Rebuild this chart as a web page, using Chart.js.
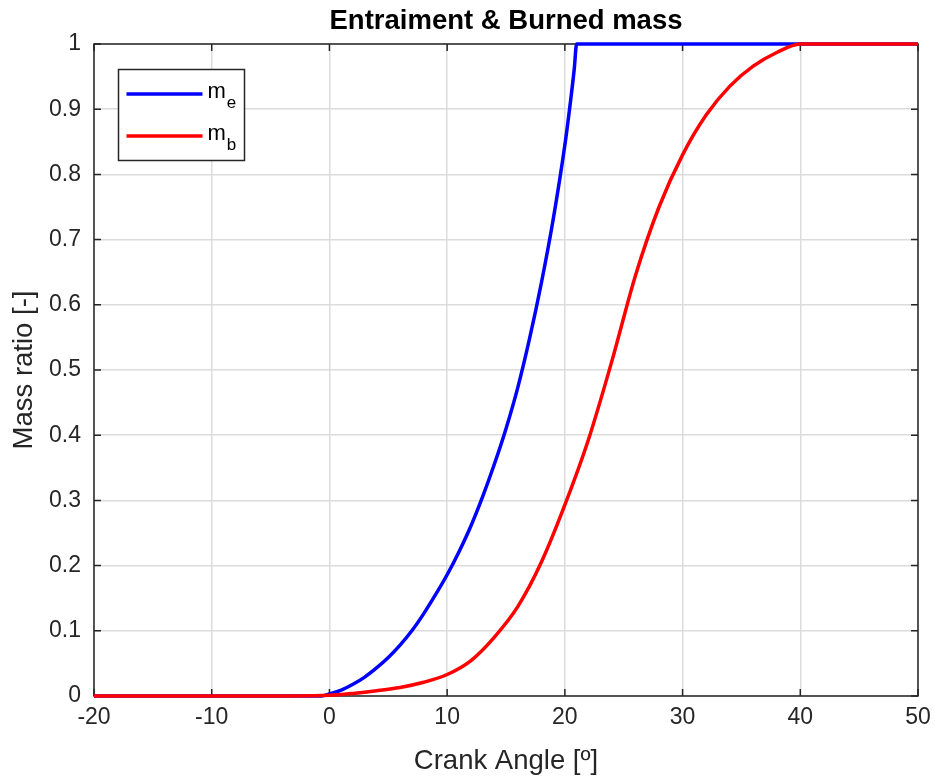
<!DOCTYPE html>
<html>
<head>
<meta charset="utf-8">
<title>Entraiment &amp; Burned mass</title>
<script src="https://cdn.jsdelivr.net/npm/chart.js@4.4.1/dist/chart.umd.min.js"></script>
<style>
  html, body { margin: 0; padding: 0; background: #fff; }
  #wrap { width: 935px; height: 778px; }
</style>
</head>
<body>
<div id="wrap"><canvas id="massChart" width="935" height="778"></canvas></div>
<script>
// values
const crankAngleE = [-20, -0.7, 0, 1, 2, 3, 4, 5, 6, 7, 8, 9, 10, 11, 12, 13, 14, 15, 16, 17, 18, 19, 20, 20.5, 20.8, 21, 50];
const massEntrained = [0, 0, 0.003, 0.009, 0.018, 0.029, 0.043, 0.059, 0.078, 0.100, 0.126, 0.155, 0.186, 0.221, 0.260, 0.305, 0.355, 0.41, 0.473, 0.548, 0.633, 0.73, 0.845, 0.915, 0.962, 1, 1];

const crankAngleB = [-20, -3, 0, 2, 4, 6, 8, 10, 12, 14, 16, 18, 20, 22, 24, 26, 28, 30, 32, 34, 36, 38, 40, 50];
const massBurned = [0, 0, 0.001, 0.004, 0.008, 0.013, 0.021, 0.033, 0.054, 0.090, 0.137, 0.205, 0.293, 0.393, 0.514, 0.645, 0.75, 0.83, 0.891, 0.935, 0.966, 0.987, 1, 1];

const xTickValues = [-20, -10, 0, 10, 20, 30, 40, 50];
const yTickValues = [0, 0.1, 0.2, 0.3, 0.4, 0.5, 0.6, 0.7, 0.8, 0.9, 1];
const yTickLabels = ['0', '0.1', '0.2', '0.3', '0.4', '0.5', '0.6', '0.7', '0.8', '0.9', '1'];

const seriesNames = ['m', 'm'];
const seriesSubscripts = ['e', 'b'];
const chartTitle = 'Entraiment & Burned mass';

const FONT = "'Liberation Sans', Arial, Helvetica, sans-serif";
const AXIS_COLOR = '#262626';
const GRID_COLOR = '#dcdcdc';

function toPoints(xs, ys) {
    return xs.map((x, i) => ({ x: x, y: ys[i] }));
}

// title centred over the plot area, not the whole canvas
const plotTitlePlugin = {
    id: 'plotTitle',
    afterDraw(chart) {
        const { ctx, chartArea: a } = chart;
        ctx.save();
        ctx.fillStyle = '#000';
        ctx.font = 'bold 27.5px ' + FONT;
        ctx.textAlign = 'center';
        ctx.textBaseline = 'middle';
        ctx.fillText(chartTitle, (a.left + a.right) / 2, 21);
        ctx.restore();
    }
};

// full box around the plot with inward tick marks (matlab style)
const axesBoxPlugin = {
    id: 'axesBox',
    beforeDatasetsDraw(chart) {
        const { ctx, chartArea: a, scales } = chart;
        const tickLen = 7;
        ctx.save();
        ctx.strokeStyle = AXIS_COLOR;
        ctx.lineWidth = 1.5;
        ctx.strokeRect(a.left, a.top, a.right - a.left, a.bottom - a.top);
        ctx.beginPath();
        xTickValues.forEach(v => {
            const px = scales.x.getPixelForValue(v);
            ctx.moveTo(px, a.bottom);
            ctx.lineTo(px, a.bottom - tickLen);
            ctx.moveTo(px, a.top);
            ctx.lineTo(px, a.top + tickLen);
        });
        yTickValues.forEach(v => {
            const py = scales.y.getPixelForValue(v);
            ctx.moveTo(a.left, py);
            ctx.lineTo(a.left + tickLen, py);
            ctx.moveTo(a.right, py);
            ctx.lineTo(a.right - tickLen, py);
        });
        ctx.stroke();
        ctx.restore();
    }
};

// legend with subscripts, drawn by hand since the built in one can't do it
const subLegendPlugin = {
    id: 'subLegend',
    afterDraw(chart) {
        const { ctx, chartArea: a } = chart;
        const left = a.left + 24.5;
        const top = a.top + 25.5;
        ctx.save();
        ctx.fillStyle = '#fff';
        ctx.fillRect(left, top, 126, 91);
        ctx.strokeStyle = AXIS_COLOR;
        ctx.lineWidth = 1.5;
        ctx.strokeRect(left, top, 126, 91);

        chart.data.datasets.forEach((ds, i) => {
            const rowY = top + 24.5 + i * 42;
            ctx.strokeStyle = ds.borderColor;
            ctx.lineWidth = 3.5;
            ctx.beginPath();
            ctx.moveTo(left + 8, rowY);
            ctx.lineTo(left + 84, rowY);
            ctx.stroke();

            ctx.fillStyle = '#000';
            ctx.textBaseline = 'alphabetic';
            ctx.font = '22px ' + FONT;
            ctx.fillText(seriesNames[i], left + 89, rowY + 4);
            const w = ctx.measureText(seriesNames[i]).width;
            ctx.font = '17px ' + FONT;
            ctx.fillText(seriesSubscripts[i], left + 89 + w + 1, rowY + 14);
        });
        ctx.restore();
    }
};

const ctx = document.getElementById('massChart').getContext('2d');

new Chart(ctx, {
    type: 'line',
    data: {
        datasets: [{
            label: 'm_e',
            data: toPoints(crankAngleE, massEntrained),
            borderColor: '#0000ff',
            borderWidth: 3.5,
            pointRadius: 0,
            cubicInterpolationMode: 'monotone',
            clip: false,
            order: 1
        }, {
            label: 'm_b',
            data: toPoints(crankAngleB, massBurned),
            borderColor: '#ff0000',
            borderWidth: 3.5,
            pointRadius: 0,
            cubicInterpolationMode: 'monotone',
            clip: false,
            order: 0
        }]
    },
    options: {
        responsive: false,
        animation: false,
        events: [],
        layout: { padding: { top: 44, right: 17, bottom: 0, left: 0 } },
        plugins: {
            legend: { display: false },
            tooltip: { enabled: false },
            title: { display: false }
        },
        scales: {
            x: {
                type: 'linear',
                min: -20,
                max: 50,
                afterBuildTicks: scale => {
                    scale.ticks = xTickValues.map(v => ({ value: v }));
                },
                afterFit: scale => {
                    scale.height = 82;
                    scale.paddingRight = 0;
                    scale.paddingLeft = 0;
                },
                ticks: {
                    color: AXIS_COLOR,
                    font: { family: FONT, size: 23 },
                    padding: 8,
                    maxRotation: 0,
                    autoSkip: false
                },
                grid: { color: GRID_COLOR, lineWidth: 1.5, drawTicks: false },
                border: { display: false },
                title: {
                    display: true,
                    text: 'Crank Angle [º]',
                    color: AXIS_COLOR,
                    font: { family: FONT, size: 27.5, lineHeight: 1.2 },
                    padding: { top: 0, bottom: 0 }
                }
            },
            y: {
                type: 'linear',
                min: 0,
                max: 1,
                afterBuildTicks: scale => {
                    scale.ticks = yTickValues.map(v => ({ value: v }));
                },
                afterFit: scale => {
                    scale.width = 94;
                    scale.paddingTop = 0;
                    scale.paddingBottom = 0;
                },
                ticks: {
                    color: AXIS_COLOR,
                    font: { family: FONT, size: 23 },
                    padding: 13,
                    autoSkip: false,
                    callback: (value, index) => yTickLabels[index]
                },
                grid: { color: GRID_COLOR, lineWidth: 1.5, drawTicks: false },
                border: { display: false },
                title: {
                    display: true,
                    text: 'Mass ratio [-]',
                    color: AXIS_COLOR,
                    font: { family: FONT, size: 27.5, lineHeight: 1.2 },
                    padding: { top: 8, bottom: 8 }
                }
            }
        }
    },
    plugins: [axesBoxPlugin, subLegendPlugin, plotTitlePlugin]
});
</script>
</body>
</html>
